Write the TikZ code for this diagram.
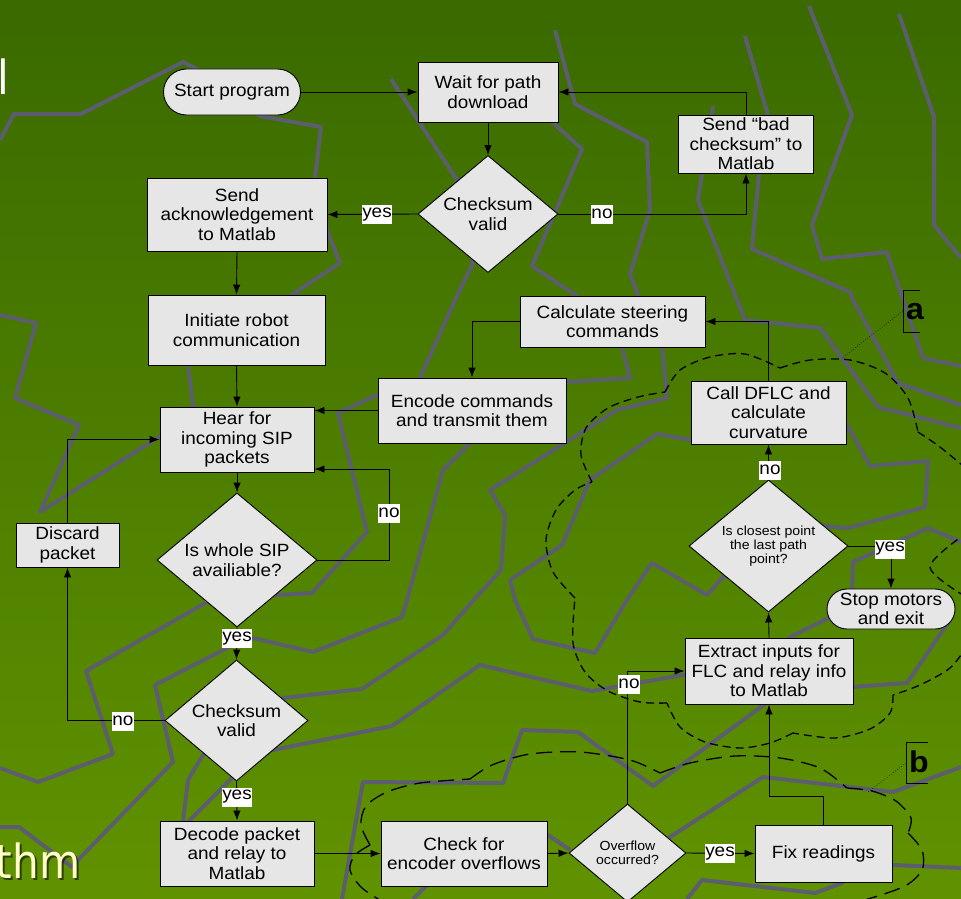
\documentclass[tikz,border=0pt]{standalone}
\usepackage{fontspec}
\setmainfont{Liberation Sans}[FakeStretch=1.07]
\newfontfamily\titlefont{DejaVu Sans Condensed}
\usetikzlibrary{shapes.geometric,arrows.meta}
\definecolor{bgtop}{RGB}{58,106,0}
\definecolor{bgbot}{RGB}{96,146,0}
\definecolor{zigc}{RGB}{92,94,112}
\definecolor{boxfill}{RGB}{230,230,230}
\definecolor{cream}{RGB}{255,255,200}
\newcommand\boxfs{\fontsize{17.7}{19.6}\selectfont}
\newcommand\smallfs{\fontsize{13.2}{14.3}\selectfont}
\newcommand\titlefs{\titlefont\fontsize{47}{50}\selectfont}
\newcommand\letfs{\bfseries\fontsize{30}{30}\selectfont}
\begin{document}
\begin{tikzpicture}[x=1pt,y=-1pt,
 box/.style={draw=black,line width=0.9pt,fill=boxfill,inner sep=0pt,align=center,font=\boxfs},
 dia/.style={shape=diamond,draw=black,line width=0.9pt,fill=boxfill,inner sep=0pt},
 dtext/.style={inner sep=0pt,align=center,font=\boxfs},
 stxt/.style={inner sep=0pt,align=center,font=\smallfs},
 conn/.style={draw=black,line width=0.9pt,-{Latex[length=10pt,width=7.5pt]}},
 lbl/.style={fill=white,inner xsep=0.5pt,inner ysep=0pt,minimum height=19pt,font=\boxfs},
 zig/.style={draw=zigc,line width=4pt,line join=round},
 clouda/.style={draw=black,line width=1.3pt,dash pattern=on 8pt off 5pt},
 cloudb/.style={draw=black,line width=1.3pt,dash pattern=on 16pt off 8pt},
 brk/.style={draw=black,line width=0.9pt},
 dot/.style={draw=black,line width=0.6pt,dotted}]
\useasboundingbox (0,0) rectangle (961,899);
\shade[top color=bgtop,bottom color=bgbot] (0,0) rectangle (961,899);
\begin{scope}
\clip (0,0) rectangle (961,899);
% background zigzag lines
\draw[zig] plot coordinates {(0,140) (14,114) (81,114) (183,62) (195,68) (260,116) (321,127) (315,178) (328,233) (340,263) (290,296) (188,365) (193,406) (170,430) (40,512) (79,425) (15,398) (36,323) (0,315)};
\draw[zig] plot coordinates {(391,79) (457,180) (473,263) (455,300) (420,378) (400,392) (377,395) (338,413) (367,532) (312,593) (277,595) (255,597)};
\draw[zig] plot coordinates {(540,100) (552,122) (582,149) (532,266) (577,296) (622,347) (630,378) (566,382) (500,425) (470,443) (443,470) (407,600) (402,617) (313,652) (253,638) (227,648) (155,685) (173,762) (80,858) (72,867) (19,827) (0,827)};
\draw[zig] plot coordinates {(555,30) (575,104) (647,142) (650,210) (630,274) (640,300) (662,347) (667,398) (617,410) (490,490) (505,515) (501,570) (480,593) (443,635) (362,689) (283,698) (255,705)};
\draw[zig] plot coordinates {(713,106) (708,140) (702,173) (698,200) (737,300) (745,320) (820,328) (878,407) (961,428)};
\draw[zig] plot coordinates {(745,36) (768,115) (762,150) (759,173) (752,249) (850,292) (853,300) (898,383) (961,405)};
\draw[zig] plot coordinates {(809,6) (852,115) (812,225) (822,259) (887,252) (903,300) (923,358) (961,366)};
\draw[zig] plot coordinates {(899,14) (934,117) (934,225) (961,258)};
\draw[zig] plot coordinates {(790,545) (823,526) (848,528) (925,507) (928,461) (870,466) (847,425) (760,432) (692,440) (657,434) (590,480) (562,545) (510,580) (515,600) (533,639) (595,653) (627,600) (652,563) (707,595) (723,577) (740,570)};
\draw[zig] plot coordinates {(850,600) (852,587) (853,562) (928,528) (961,542)};
\draw[zig] plot coordinates {(950,620) (907,683) (853,687) (683,675) (592,691) (480,665) (392,726) (273,750) (258,752)};
\draw[zig] plot coordinates {(835,612) (827,619) (790,637) (775,690) (765,704) (653,786) (578,732) (522,730) (503,783) (363,782) (342,899)};
\draw[zig] plot coordinates {(650,850) (670,837) (763,777) (893,792) (961,767)};
\draw[zig] plot coordinates {(880,865) (893,865) (961,868)};
\draw[zig] plot coordinates {(687,899) (702,880) (815,893) (842,883) (842,875)};
\draw[zig] plot coordinates {(413,899) (425,887) (500,850) (548,835) (570,850)};
\draw[zig] plot coordinates {(0,768) (38,782) (113,754) (86,671) (207,602) (220,595)};
\draw[zig] plot coordinates {(215,745) (203,755) (188,780) (183,822)};
\draw[zig] plot coordinates {(240,770) (233,777) (188,822)};
% cloud a
\draw[clouda] plot[smooth] coordinates {(592,482) (581,455) (586,428) (608,408) (638,397) (665,392)}
  plot[smooth] coordinates {(665,392) (680,370) (710,357) (745,354) (780,368)}
  plot[smooth] coordinates {(780,368) (810,360) (850,360) (885,373) (908,398) (918,432)}
  plot[smooth] coordinates {(918,432) (940,447) (968,470)}
  plot[smooth] coordinates {(968,532) (930,567) (968,598)}
  plot[smooth] coordinates {(968,645) (950,668) (920,685) (893,695)}
  plot[smooth] coordinates {(893,695) (890,713) (870,729) (835,738) (793,733)}
  plot[smooth] coordinates {(793,733) (770,743) (740,748) (705,742) (680,727) (667,703)}
  plot[smooth] coordinates {(667,703) (640,702) (608,691) (585,672) (573,643) (575,598)}
  plot[smooth] coordinates {(575,598) (553,572) (546,540) (556,510) (575,490) (592,482)};
% cloud b
\draw[cloudb] plot[smooth] coordinates {(388,905) (362,888) (350,870) (355,855) (370,845)}
  plot[smooth] coordinates {(370,845) (361,825) (366,806) (387,792) (420,783) (470,779)}
  plot[smooth] coordinates {(470,779) (492,765) (530,754) (580,752) (630,760) (660,773)}
  plot[smooth] coordinates {(660,773) (690,763) (735,756) (780,758) (820,768) (847,788)}
  plot[smooth] coordinates {(847,788) (872,791) (896,801) (911,818) (908,833)}
  plot[smooth] coordinates {(908,833) (922,850) (922,870) (905,886) (868,899) (840,906)};
\end{scope}
% bracket labels
\coordinate (abr) at (903,311);
\coordinate (aend) at (842,358);
\draw[brk] (920,290) -- (903,290) -- (903,332) -- (920,332);
\node[inner sep=0pt,font=\letfs] (alet) at (915,312) {a};
\draw[dot] (abr) -- (aend);
\coordinate (bbr) at (906,763);
\coordinate (bend) at (868,792);
\draw[brk] (928,742) -- (906,742) -- (906,783) -- (928,783);
\node[inner sep=0pt,font=\letfs] (blet) at (919,762) {b};
\draw[dot] (bbr) -- (bend);
% title fragments
\node[anchor=base west,inner sep=0pt,text=white,font=\titlefs] (tl) at (-2.5,95) {l};
\node[anchor=base east,inner sep=0pt,text=black,opacity=0.55,font=\titlefs] (tsh) at (82.5,880.5) {thm};
\node[anchor=base east,inner sep=0pt,text=cream,font=\titlefs] (tm) at (80.5,878) {thm};
% nodes
\node[box,minimum width=137,minimum height=46,rounded corners=23] (start) at (232,92) {Start program};
\node[box,minimum width=140,minimum height=60] (wait) at (488,92) {Wait for path\\download};
\node[box,minimum width=135,minimum height=58] (bad) at (746,144) {Send “bad\\checksum” to\\Matlab};
\node[dia,minimum width=140,minimum height=117] (ck1) at (488,214) {};
\node[dtext] (ck1t) at (ck1) {Checksum\\valid};
\node[box,minimum width=180,minimum height=73] (ack) at (237,214.5) {Send\\acknowledgement\\to Matlab};
\node[box,minimum width=177,minimum height=70] (init) at (236.5,330) {Initiate robot\\communication};
\node[box,minimum width=154,minimum height=65] (hear) at (237,439.5) {Hear for\\incoming SIP\\packets};
\node[box,minimum width=188,minimum height=65] (encode) at (472,410.5) {Encode commands\\and transmit them};
\node[box,minimum width=185,minimum height=51] (calc) at (612.5,321.5) {Calculate steering\\commands};
\node[box,minimum width=155,minimum height=63] (dflc) at (768.5,412.5) {Call DFLC and\\calculate\\curvature};
\node[dia,minimum width=159,minimum height=132] (last) at (768.5,546) {};
\node[stxt] (lastt) at (last) {Is closest point\\the last path\\point?};
\node[box,minimum width=128,minimum height=40,rounded corners=20] (stop) at (891,609) {Stop motors\\and exit};
\node[box,minimum width=168,minimum height=66] (extract) at (769,671) {Extract inputs for\\FLC and relay info\\to Matlab};
\node[dia,minimum width=160,minimum height=134] (sip) at (237,560) {};
\node[dtext] (sipt) at (sip) {Is whole SIP\\availiable?};
\node[box,minimum width=103,minimum height=44] (discard) at (67.5,545) {Discard\\packet};
\node[dia,minimum width=143,minimum height=121] (ck2) at (236.5,720.5) {};
\node[dtext] (ck2t) at (ck2) {Checksum\\valid};
\node[box,minimum width=154,minimum height=65] (decode) at (237,853.5) {Decode packet\\and relay to\\Matlab};
\node[box,minimum width=166,minimum height=65] (check) at (464,853.5) {Check for\\encoder overflows};
\node[dia,minimum width=117,minimum height=98] (ovf) at (627.5,853) {};
\node[stxt] (ovft) at (ovf) {Overflow\\occurred?};
\node[box,minimum width=137,minimum height=57] (fix) at (823.5,853.5) {Fix readings};
% connectors
\draw[conn] (start.east) -- (wait.west);
\draw[conn] (wait.south) -- (ck1.north);
\draw[conn] (ck1.east) -| (bad.south);
\draw[conn] (bad.north) |- (wait.east);
\draw[conn] (ck1.west) -- (ack.east);
\draw[conn] (ack.south) -- (init.north);
\draw[conn] (init.south) -- (hear.north);
\draw[conn] (encode.west) -- (encode.west -| hear.east);
\draw[conn] (calc.west) -| (encode.north);
\draw[conn] (dflc.north) |- (calc.east);
\draw[conn] (last.north) -- (dflc.south);
\draw[conn] (last.east) -| (stop.north);
\draw[conn] (extract.north) -- (last.south);
\draw[conn] (hear.south) -- (sip.north);
\draw[conn] (sip.east) -- (389,560) |- ([yshift=-29.5pt]hear.east);
\draw[conn] (sip.south) -- (ck2.north);
\draw[conn] (ck2.west) -| (discard.south);
\draw[conn] (discard.north) |- (hear.west);
\draw[conn] (ck2.south) -- (decode.north);
\draw[conn] (decode.east) -- (check.west);
\draw[conn] (check.east) -- (ovf.west);
\draw[conn] (ovf.north) |- (extract.west);
\draw[conn] (ovf.east) -- (fix.west);
\draw[conn] (fix.north) -- ++(0,-28) -| (extract.south);
% labels
\node[lbl] (l1) at (377,214.5) {yes};
\node[lbl] (l2) at (602,214) {no};
\node[lbl] (l3) at (389,513) {no};
\node[lbl] (l4) at (237,638.5) {yes};
\node[lbl] (l5) at (123,721) {no};
\node[lbl] (l6) at (237,797) {yes};
\node[lbl] (l7) at (770,470) {no};
\node[lbl] (l8) at (890,549) {yes};
\node[lbl] (l9) at (720,853.5) {yes};
\node[lbl] (l10) at (629,684) {no};
\end{tikzpicture}
\end{document}
